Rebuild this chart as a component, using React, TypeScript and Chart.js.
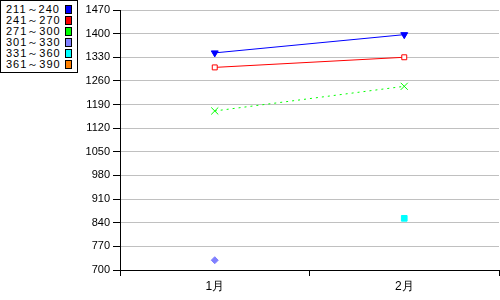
import React, { useEffect, useRef } from "react";
import { Chart, registerables } from "chart.js";

Chart.register(...registerables);

const categories = ["1月", "2月"];
const seriesNames = ["211～240", "241～270", "271～300", "301～330", "331～360", "361～390"];
const seriesColors = ["#0000ff", "#ff0000", "#00ff00", "#8080ff", "#00ffff", "#ff8000"];
const s211 = [1343, 1397];
const s241 = [1300, 1330];
const s271 = [1171, 1244];
const s301 = [729, null];
const s331 = [null, 853];
const s361 = [null, null];
const yMin = 700;
const yMax = 1470;
const yStep = 70;

const FONT = "'Liberation Sans', sans-serif";

export default function App() {
  const ref = useRef<HTMLCanvasElement>(null);
  useEffect(() => {
    document.body.style.margin = "0";
    const ctx = ref.current!;
    const chart = new Chart(ctx, {
      type: "line",
      data: {
        labels: categories,
        datasets: [
          {
            label: seriesNames[0],
            data: s211,
            borderColor: seriesColors[0],
            backgroundColor: seriesColors[0],
            borderWidth: 1,
            pointStyle: "triangle",
            rotation: 180,
            pointRadius: 4,
            pointBorderWidth: 1,
          },
          {
            label: seriesNames[1],
            data: s241,
            borderColor: seriesColors[1],
            backgroundColor: "#ffffff",
            borderWidth: 1,
            pointStyle: "rect",
            pointRadius: 3.5,
            pointBorderWidth: 1,
          },
          {
            label: seriesNames[2],
            data: s271,
            borderColor: seriesColors[2],
            backgroundColor: seriesColors[2],
            borderWidth: 1,
            borderDash: [2, 4],
            pointStyle: "crossRot",
            pointRadius: 5,
            pointBorderWidth: 1,
          },
          {
            label: seriesNames[3],
            data: s301,
            borderColor: seriesColors[3],
            backgroundColor: seriesColors[3],
            borderWidth: 1,
            pointStyle: "rectRot",
            pointRadius: 3.5,
            pointBorderWidth: 1,
          },
          {
            label: seriesNames[4],
            data: s331,
            borderColor: seriesColors[4],
            backgroundColor: seriesColors[4],
            borderWidth: 1,
            pointStyle: "rect",
            pointRadius: 4,
            pointBorderWidth: 1,
          },
          {
            label: seriesNames[5],
            data: s361,
            borderColor: seriesColors[5],
            backgroundColor: seriesColors[5],
            borderWidth: 1,
            pointStyle: "rect",
            pointRadius: 4,
          },
        ],
      },
      options: {
        animation: false,
        responsive: false,
        layout: { autoPadding: false, padding: { top: 10, left: 0, right: 1, bottom: 0 } },
        plugins: { legend: { display: false }, tooltip: { enabled: false } },
        scales: {
          x: {
            offset: true,
            grid: {
              offset: true,
              drawOnChartArea: false,
              tickLength: 6,
              tickColor: "#000",
              color: "#000",
            },
            border: { color: "#000", width: 1 },
            ticks: { color: "#000", font: { family: FONT, size: 12 }, padding: 3 },
            afterFit: (s: any) => {
              s.height = 30;
            },
          },
          y: {
            min: yMin,
            max: yMax,
            grid: { color: "#c0c0c0", tickColor: "#000", tickLength: 7 },
            border: { color: "#000", width: 1 },
            ticks: {
              stepSize: yStep,
              color: "#000",
              font: { family: FONT, size: 11 },
              padding: 3,
              callback: (v: any) => String(v),
            },
            afterFit: (s: any) => {
              s.width = 120;
            },
          },
        },
      },
    });
    return () => chart.destroy();
  }, []);

  return (
    <div style={{ position: "relative", width: 500, height: 300, background: "#fff" }}>
      <canvas ref={ref} width={500} height={300} style={{ display: "block" }} />
      <div
        style={{
          position: "absolute",
          left: 0,
          top: 0,
          width: 78,
          height: 73,
          border: "1px solid #000",
          background: "#fff",
          boxSizing: "border-box",
          fontFamily: FONT,
          fontSize: 11,
          lineHeight: "11px",
          letterSpacing: 1,
          color: "#000",
          paddingTop: 3,
        }}
      >
        {seriesNames.map((n, i) => (
          <div key={n} style={{ position: "relative", height: 11, paddingLeft: 5 }}>
            <span style={{ whiteSpace: "nowrap" }}>{n}</span>
            <span
              style={{
                position: "absolute",
                left: 64,
                top: 1,
                width: 5,
                height: 7,
                background: seriesColors[i],
                border: "1px solid #000",
              }}
            />
          </div>
        ))}
      </div>
    </div>
  );
}
